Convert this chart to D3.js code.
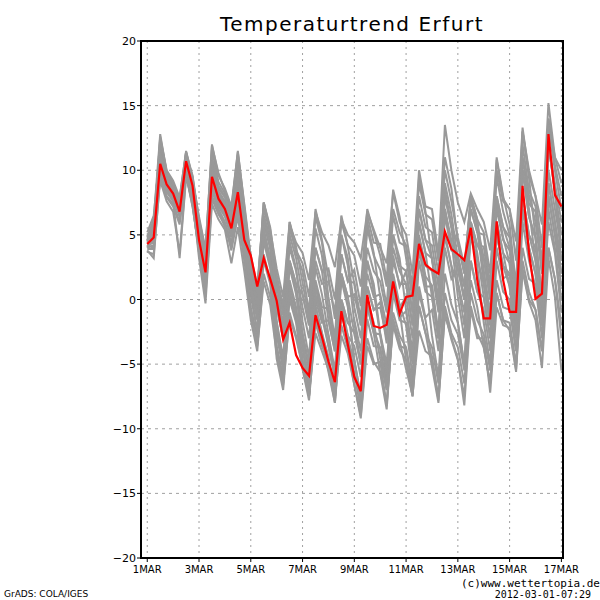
<!DOCTYPE html>
<html><head><meta charset="utf-8">
<script src="https://cdn.jsdelivr.net/npm/d3@7"></script>
<style>body{margin:0;background:#fff} svg{display:block}</style>
</head><body><svg id="c" width="600" height="600"></svg>
<script>
const title = "Temperaturtrend Erfurt";
const stepHours = 6;
const tickDays = [0, 2, 4, 6, 8, 10, 12, 14, 16];
const tickLabels = ["1MAR", "3MAR", "5MAR", "7MAR", "9MAR", "11MAR", "13MAR", "15MAR", "17MAR"];
const yTicks = [-20, -15, -10, -5, 0, 5, 10, 15, 20];
const creditLeft = "GrADS: COLA/IGES";
const creditRight = "(c)www.wettertopia.de";
const stamp = "2012-03-01-07:29";

const m01 = [4.6,5.8,12.1,9.4, 8.6,7.2,11.3,9.0, 5.5,3.0,10.8,8.4, 7.6,6.2,10.4,6.2,
 3.4,1,7,5.2, 1.4,-1,5,3.2, 0.4,-2,4,2.2, 2.4,0,6,4.2, 3.4,1,7,5.2, 3.4,1,7,5.2, 4.2,1,9,6.6, 6.2,3,11,8.6, 4.4,2,8,6.2, 5.2,2,10,7.6, 7,3,13,10, 8,4,14,11, 9];
const m02 = [4.0,4.2,9.8,8.6, 7.9,6.6,10.2,8.0, 4.1,1.2,8.8,7.2, 6.4,4.8,7.5,4.0,
 0.3,-2.5,4.5,2.4, -3.7,-6.5,0.5,-1.6, -4.7,-7.5,-0.5,-2.6, -4.4,-7.8,-0.2,-2.8, -5.7,-8.5,-1.5,-3.6, -3.7,-6.5,0.5,-1.6, -1.8,-5,3,0.6, 0.2,-3,5,2.6, 1.2,-2,6,3.6, 0.2,-3,5,2.6, 2,-2,8,5, 4,0,10,7, 4];
const m03 = [4.8,6.2,12.8,9.8, 8.9,7.8,11.5,9.4, 6.0,3.6,11.6,9.1, 8.2,6.8,11.2,7.0,
 2.7,-0.5,7.5,5.1, 1.2,-2,6,3.6, 2.2,-1,7,4.6, 1.7,-1.5,6.5,4.1, 1.2,-2,6,3.6, 0.2,-3,5,2.6, 2.2,-1,7,4.6, 4.2,1,9,6.6, 3.2,0,8,5.6, 1.2,-2,6,3.6, 2.8,-2,10,6.4, 4.8,0,12,8.4, 5];
const m04 = [3.7,3.5,9.3,8.0, 7.4,6.0,9.6,7.4, 3.6,0.2,7.8,6.6, 5.8,3.8,6.4,3.0,
 -0.6,-3,3,1.2, -4.6,-7,-1,-2.8, -5.1,-7.5,-1.5,-3.3, -5.6,-8,-2,-3.8, -6.6,-9,-3,-4.8, -5.6,-8,-2,-3.8, -4.7,-7.5,-0.5,-2.6, -3.7,-6.5,0.5,-1.6, -2.7,-5.5,1.5,-0.6, -3.7,-6.5,0.5,-1.6, -1.8,-5,3,0.6, -0.8,-4,4,1.6, -2];
const m05 = [4.4,5.0,11.0,9.2, 8.4,7.0,10.9,8.8, 5.0,2.6,10.2,8.0, 7.3,5.9,9.2,5.4,
 1.8,-1,6,3.9, -1.7,-4.5,2.5,0.4, -2.7,-5.5,1.5,-0.6, -0.7,-3.5,3.5,1.4, 1.3,-1.5,5.5,3.4, 2.3,-0.5,6.5,4.4, 4.1,0.5,9.5,6.8, 3.1,-0.5,8.5,5.8, 2.4,0,6,4.2, 4.1,0.5,9.5,6.8, 5,1,11,8, 6,2,12,9, 6];
const m06 = [4.1,4.5,10.2,8.3, 7.6,3.2,9.4,8.0, 4.8,1.8,9.0,7.6, 6.8,5.1,8.0,4.4,
 2.4,0,6,4.2, -0.6,-3,3,1.2, -2.6,-5,1,-0.8, -3.6,-6,0,-1.8, -1.6,-4,2,0.2, 0.4,-2,4,2.2, 1.2,-2,6,3.6, 3.2,0,8,5.6, 4.4,2,8,6.2, 2.2,-1,7,4.6, 3.8,-1,11,7.4, 6.8,2,14,10.4, 8];
const m07 = [5.2,6.5,11.6,9.6, 8.8,7.6,11.0,9.2, 6.4,3.9,11.9,9.8, 8.4,7.0,11.5,7.2,
 3.0,0.5,6.5,4.8, 1.6,-1.2,5.5,3.8, 2.8,0.2,6.4,4.4, 0.2,-3,5,2.6, -1.8,-5,3,0.6, -2.8,-6,2,-0.4, -2,-6,4,1, 1,-3,7,4, 3.4,1,7,5.2, 5,1,11,8, 5.8,1,13,9.4, 4.8,0,12,8.4, 3];
const m08 = [3.9,3.9,10.0,8.4, 7.8,6.4,10.0,7.8, 3.2,-0.3,7.4,6.2, 5.4,2.8,5.6,2.2,
 -1.6,-4,2,0.2, -3.6,-6,0,-1.8, -5.4,-7.8,-1.8,-3.6, -4.6,-7,-1,-2.8, -3.6,-6,0,-1.8, -4.6,-7,-1,-2.8, -3.7,-6.5,0.5,-1.6, -4.7,-7.5,-0.5,-2.6, -3.7,-6.5,0.5,-1.6, -2.7,-5.5,1.5,-0.6, -0.8,-4,4,1.6, 1.2,-2,6,3.6, -1];
const m09 = [4.5,5.4,11.8,9.5, 8.6,7.4,11.1,9.1, 5.8,3.3,10.6,8.6, 7.9,6.5,10.0,6.0,
 2.3,-0.5,6.5,4.4, 0.3,-2.5,4.5,2.4, -1.7,-4.5,2.5,0.4, -2.7,-5.5,1.5,-0.6, -4.7,-7.5,-0.5,-2.6, -5.7,-8.5,-1.5,-3.6, -3.8,-7,1,-1.4, -0.8,-4,4,1.6, 2.4,0,6,4.2, 3.2,0,8,5.6, 4,0,10,7, 3,-1,9,6, 2];
const m10 = [4.2,4.4,10.4,8.8, 8.0,6.7,10.4,8.4, 4.4,1.6,9.2,7.5, 6.7,5.0,7.9,3.8,
 1.4,-1,5,3.2, -2.6,-5,1,-0.8, -3.6,-6,0,-1.8, -1.6,-4,2,0.2, 0.4,-2,4,2.2, 1.4,-1,5,3.2, -0.8,-4,4,1.6, -2.8,-6,2,-0.4, -1.8,-5,3,0.6, 0.2,-3,5,2.6, 1,-3,7,4, 2,-2,8,5, 1];
const m11 = [4.7,5.6,12.4,9.9, 9.0,7.6,11.2,9.5, 5.9,3.4,11.0,8.8, 8.0,6.4,10.8,6.6,
 3.2,0.5,7.5,5.6, 1.9,-0.5,5.8,4.4, 3.6,1.5,6.8,5.2, 4.2,2.5,6.2,5.0, 4.4,3.2,6.8,5.4, 4.0,2.8,8.3,6.0, 5.0,2.0,10.0,7.2, 7.0,3.5,13.5,10.0, 7.5,6.0,8.2,7.0, 6.0,3.8,10.8,7.8, 7.0,4.5,13.3,9.6, 8.0,5.8,15.2,11.0, 10];
const m12 = [3.8,3.2,9.6,7.9, 7.2,5.8,9.8,7.2, 3.9,0.8,8.4,7.0, 6.0,4.4,7.0,3.4,
 -0.7,-3.5,3.5,1.4, -2.7,-5.5,1.5,-0.6, -4.7,-7.5,-0.5,-2.6, -5.2,-8,-1,-3.1, -4.7,-7.5,-0.5,-2.6, -2.7,-5.5,1.5,-0.6, 0.2,-3,5,2.6, 2.2,-1,7,4.6, 0.2,-3,5,2.6, -1.8,-5,3,0.6, 0,-4,6,3, 1,-3,7,4, 0];
const m13 = [4.9,5.9,11.4,9.3, 8.7,7.3,11.4,9.2, 5.3,2.9,10.4,8.2, 7.5,6.0,9.8,5.8,
 2.4,0,6,4.2, 0.4,-2,4,2.2, -0.6,-3,3,1.2, 1.4,-1,5,3.2, -0.6,-3,3,1.2, -2.6,-5,1,-0.8, -4.7,-7.5,-0.5,-2.6, -5.2,-8,-1,-3.1, -4.7,-7.5,-0.5,-2.6, -3.7,-6.5,0.5,-1.6, -2.4,-5.6,2.4,0, -0.8,-4,4,1.6, -3];
const m14 = [4.3,4.6,10.8,8.7, 8.1,6.9,10.6,8.6, 4.9,2.3,9.8,7.9, 7.1,5.6,8.8,5.0,
 0.7,-2.5,5.5,3.1, -1.8,-5,3,0.6, -3.8,-7,1,-1.4, -2.8,-6,2,-0.4, -4.8,-8,0,-2.4, -3.8,-7,1,-1.4, -0.9,-4.5,4.5,1.8, 1.1,-2.5,6.5,3.8, 3.4,1,7,5.2, 2.1,-1.5,7.5,4.8, 2.8,-2,10,6.4, 4.8,0,12,8.4, 4];
const m15 = [4.0,4.9,11.2,9.0, 8.3,7.1,10.8,8.7, 5.2,2.7,10.0,8.1, 7.4,5.8,9.4,5.6,
 1.8,-0.4,4.6,2.9, -0.6,-3,3,1.2, 0.4,-2,4,2.2, -1.6,-4,2,0.2, -2.6,-5,1,-0.8, -0.6,-3,3,1.2, 1.2,-2,6,3.6, 0.2,-3,5,2.6, -1.8,-5,3,0.6, -0.8,-4,4,1.6, 2,-2,8,5, 3,-1,9,6, 3];
const m16 = [4.6,5.2,9.2,7.6, 6.8,3.6,9.6,7.2, 3.8,0.6,8.0,6.8, 5.6,4.2,6.8,3.6,
 -1.2,-3.6,1.4,-0.4, -4.2,-6.6,-1.4,-3.0, -5.2,-7.4,-2.6,-4.0, -5.4,-7.6,-2.8,-4.2, -6.6,-9.2,-3.6,-5.0, -4.8,-8.2,-1.6,-3.2, -5.4,-7.4,-2.4,-4.0, -4.4,-7.8,-1.2,-2.9, -4.6,-8.2,-0.8,-3.0, -3.0,-7.2,-0.6,-2.0, -2.2,-5.4,2.2,-0.2, -1.6,-5.3,3.2,0.2, -5.5];
const m17 = [4.4,5.3,12.6,10.0, 9.2,7.9,11.4,9.6, 6.2,3.8,12.0,9.6, 8.6,7.2,11.4,7.4,
 3.3,0.5,7.5,5.4, 2.4,0.2,6.0,4.1, 1.3,-1.5,5.5,3.4, -0.7,-3.5,3.5,1.4, 2.3,-0.5,6.5,4.4, 4.3,1.5,8.5,6.4, 3.2,0,8,5.6, 5.2,2,10,7.6, 4.8,2.6,7.6,5.8, 3.2,0,8,5.6, 4.8,0,12,8.4, 7.2,2.8,13.4,10.0, 7];
const m18 = [4.2,4.0,10.6,8.5, 7.7,6.5,10.5,8.2, 4.3,1.4,9.0,7.3, 6.6,4.9,8.2,4.2,
 1.0,-1.6,5.4,3.0, -2.2,-4.6,0.6,-1.2, -3.2,-6.4,0.4,-1.4, -3.6,-6,0,-1.8, -2.6,-5,1,-0.8, -0.2,-3.4,3.4,1.0, 2.2,-1,7,4.6, 3.2,0,8,5.6, 1.4,-1,5,3.2, 1.2,-2,6,3.6, 1,-3,7,4, 2,-2,8,5, 2];

const mainRun = [4.3,4.8,10.5,8.9, 8.2,6.8,10.7,8.8, 4.6,2.1,9.5,7.8, 7.0,5.5,8.3,4.6,
 3.4,1.0,3.2,1.6, -0.1,-3.1,-1.8,-4.3, -5.3,-5.9,-1.2,-2.9, -4.8,-6.4,-0.9,-3.5,
 -6.0,-7.1,0.35,-2.05, -2.2,-1.95,1.4,-1.1, 0.2,0.3,4.3,2.7, 2.3,2.0,5.25,3.9,
 3.5,3.05,5.55,1.5, -1.46,-1.46,6.05,1.5, -0.95,-0.95,8.8,3.6, 0.05,0.45,12.8,8.1, 7.2];

const members = [m01,m02,m03,m04,m05,m06,m07,m08,m09,m10,m11,m12,m13,m14,m15,m16,m17,m18];

const svg = d3.select("#c");
const x = d3.scaleLinear().domain([-5.8, 385.5]).range([141, 563]);
const y = d3.scaleLinear().domain([-20, 20]).range([558, 41]);
const [x0, x1] = x.range();
const [y0, y1] = y.range();

svg.append("rect").attr("width", 600).attr("height", 600).attr("fill", "#fff");

// grid
const g = svg.append("g");
g.selectAll("line.vg").data(tickDays).join("line")
  .attr("x1", d => x(d * 24)).attr("x2", d => x(d * 24))
  .attr("y1", y1).attr("y2", y0)
  .attr("stroke", "#a0a0a0").attr("stroke-width", 1).attr("stroke-dasharray", "2,4");
g.selectAll("line.hg").data(yTicks.filter(v => v > -20 && v < 20)).join("line")
  .attr("x1", x0).attr("x2", x1)
  .attr("y1", d => y(d)).attr("y2", d => y(d))
  .attr("stroke", "#a0a0a0").attr("stroke-width", 1).attr("stroke-dasharray", "3,4");

const line = d3.line().x((d, i) => x(i * stepHours)).y(d => y(d));

svg.append("g").selectAll("path").data(members).join("path")
  .attr("d", line).attr("fill", "none").attr("stroke", "#999999")
  .attr("stroke-width", 2).attr("stroke-linejoin", "miter");

svg.append("path").datum(mainRun).attr("d", line).attr("fill", "none")
  .attr("stroke", "#ff0000").attr("stroke-width", 2.2);

// frame
svg.append("rect").attr("x", x0).attr("y", y1).attr("width", x1 - x0).attr("height", y0 - y1)
  .attr("fill", "none").attr("stroke", "#000").attr("stroke-width", 2);

// y axis ticks/labels
const ya = svg.append("g");
ya.selectAll("line").data(yTicks).join("line")
  .attr("x1", x0 - 4).attr("x2", x0).attr("y1", d => y(d)).attr("y2", d => y(d))
  .attr("stroke", "#000").attr("stroke-width", 1);
ya.selectAll("text").data(yTicks).join("text")
  .attr("x", x0 - 5).attr("y", d => y(d) + 4).attr("text-anchor", "end")
  .attr("font-family", "DejaVu Sans, sans-serif").attr("font-size", 11)
  .text(d => d < 0 ? "\u2212" + Math.abs(d) : String(d));

// x axis ticks/labels
const xa = svg.append("g");
xa.selectAll("line").data(tickDays).join("line")
  .attr("x1", d => x(d * 24)).attr("x2", d => x(d * 24)).attr("y1", y0).attr("y2", y0 + 4)
  .attr("stroke", "#000").attr("stroke-width", 1);
xa.selectAll("text").data(tickDays).join("text")
  .attr("x", d => x(d * 24)).attr("y", 573).attr("text-anchor", "middle")
  .attr("font-family", "DejaVu Sans, sans-serif").attr("font-size", 10)
  .text((d, i) => tickLabels[i]);

svg.append("text").attr("x", 352).attr("y", 31).attr("text-anchor", "middle")
  .attr("font-family", "DejaVu Sans, sans-serif").attr("font-size", 20)
  .attr("letter-spacing", 1.5).text(title);

svg.append("text").attr("x", 4).attr("y", 597)
  .attr("font-family", "DejaVu Sans, sans-serif").attr("font-size", 9).text(creditLeft);
svg.append("text").attr("x", 600).attr("y", 587).attr("text-anchor", "end")
  .attr("font-family", "DejaVu Sans Mono, monospace").attr("font-size", 11).text(creditRight);
svg.append("text").attr("x", 591).attr("y", 598).attr("text-anchor", "end")
  .attr("font-family", "DejaVu Sans Mono, monospace").attr("font-size", 10).text(stamp);
</script></body></html>
